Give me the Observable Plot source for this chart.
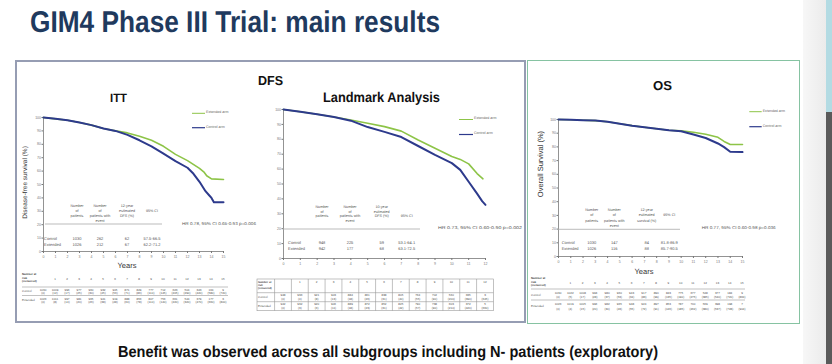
<!DOCTYPE html>
<html><head><meta charset="utf-8">
<script src="https://cdn.jsdelivr.net/npm/d3@7"></script>
<script src="https://cdn.jsdelivr.net/npm/@observablehq/plot@0.6"></script>
<style>
body{margin:0;background:#fff;}
#page{position:relative;width:832px;height:364px;overflow:hidden;background:#fff;font-family:"Liberation Sans",Arial,sans-serif;}
.box{position:absolute;box-sizing:border-box;}
.chart{position:absolute;}
#ov{position:absolute;left:0;top:0;pointer-events:none;text-rendering:geometricPrecision;}
</style></head><body>
<div id="page">
  <div class="box" style="left:15px;top:60px;width:511px;height:263px;border:2px solid #969db3"></div>
  <div class="box" style="left:527px;top:60px;width:273px;height:264px;border:1.5px solid #86c3a2"></div>
  <div class="box" style="left:803px;top:0;width:23px;height:364px;background:linear-gradient(to right,#f7f7f7,#ebebeb)"></div>
  <div class="box" style="left:826px;top:0;width:6px;height:112px;background:#b3dbe3"></div>
  <div class="box" style="left:826px;top:112px;width:6px;height:252px;background:#5a5a5a"></div>
  <div id="c1" class="chart" style="left:30px;top:110px"></div>
  <div id="c2" class="chart" style="left:268px;top:102px"></div>
  <div id="c3" class="chart" style="left:543px;top:112px"></div>
  <svg id="ov" width="832" height="364"></svg>
</div>
<script>
// ---------- DATA ----------
const arms = ["Control", "Extended"];
const legendLabels = ["Extended arm", "Control arm"];

// ITT DFS curves
const ittExtYears = [0,1,2,3,4,5,6,7,8,9,10,11,12,13,13.4,13.6,14,15];
const ittExtDFS   = [100,99,98,96.3,94.3,91.8,90,88.5,86,83,78.5,72.5,67.8,62,59,56.5,54.2,53.7];
const ittCtlYears = [0,1,2,3,4,5,6,7,8,9,10,11,12,12.5,13,13.5,13.8,14,14.2,15];
const ittCtlDFS   = [100,99,98,96.3,94.3,91.8,90,87,83,78.5,73,67.5,62.5,58,52,45,42,40,36.7,36.7];

// Landmark DFS curves
const lmExtYears = [0,1,2,3,4,5,6,7,8,9,10,10.5,11,11.5,11.85];
const lmExtDFS   = [100,98.5,96.8,95,93,90.8,88.5,85.5,79.5,74,68.5,66.5,63.5,57,53.5];
const lmCtlYears = [0,1,2,3,4,5,6,7,8,9,10,10.5,11,11.5,11.8,12];
const lmCtlDFS   = [100,98.5,96.8,95,92.5,88.2,85,81.5,75.5,69.5,64,59.5,51.5,43.5,38.5,36];

// OS curves
const osExtYears = [0,1,2,3,4,5,6,7,8,9,10,11,12,13,13.5,14,15];
const osExtOS    = [100,99.8,99.5,99.2,98.3,96.9,95.5,94.4,93.3,92.2,91.7,90.7,89.2,87,84,81.7,81.7];
const osCtlYears = [0,1,2,3,4,5,6,7,8,9,10,11,12,13,13.5,14,15];
const osCtlOS    = [100,99.8,99.5,99.2,98.3,96.9,95.5,94.4,93.3,92.2,91.4,89,86.5,82.5,79.8,76.5,76.2];

// Summary tables
const ittPatients = [1030, 1026], ittEvents = [262, 212], ittRate = [62, 67], ittCI = ["57.5-66.5", "62.2-71.2"];
const lmPatients  = [948, 942],   lmEvents  = [225, 177], lmRate  = [59, 68], lmCI  = ["53.1-64.1", "63.1-72.5"];
const osPatients  = [1030, 1026], osEvents  = [147, 116], osRate  = [84, 88], osCI  = ["81.8-86.9", "85.7-90.5"];
const ittHR = "HR 0.78, 95% CI 0.65-0.93 p=0.006";
const lmHR  = "HR 0.73, 95% CI 0.60-0.90 p=0.002";
const osHR  = "HR 0.77, 95% CI 0.60-0.98 p=0.036";

// Number at risk (censored)
const ittRiskCtl = [1030,1009,996,977,960,932,905,871,829,777,712,623,504,343,164,9];
const ittCensCtl = [0,12,17,25,30,45,56,71,86,110,145,205,290,420,580,720];
const ittRiskExt = [1026,1011,997,981,965,941,919,888,856,807,756,661,544,379,177,3];
const ittCensExt = [0,8,14,20,26,38,48,64,78,110,140,220,320,470,660,800];
const lmRiskCtl = [948,936,921,903,884,861,838,805,764,702,560,335,3];
const lmCensCtl = [0,4,8,13,18,26,31,40,55,90,200,390,645];
const lmRiskExt = [942,932,920,906,889,872,852,825,790,738,603,372,5];
const lmCensExt = [0,3,6,11,18,23,31,42,57,90,210,420,660];
const osRiskCtl = [1030,1022,1008,993,980,960,943,917,890,843,775,677,548,377,184,9];
const osCensCtl = [0,5,17,28,37,53,64,83,99,135,190,275,385,540,720,864];
const osRiskExt = [1026,1019,1005,996,982,965,948,924,897,853,787,700,569,398,198,7];
const osCensExt = [0,4,15,20,30,43,55,72,91,126,185,262,380,537,728,904];

const yTicks = [0,10,20,30,40,50,60,70,80,90,100];
const green = "#8dc447", blue = "#2d3a8c";

// ---------- CHARTS ----------
const zip = (xs, ys) => xs.map((t, i) => ({t, s: ys[i]}));
function km(el, maxYear, ext, ctl, dims) {
  const chart = Plot.plot({
    width: dims.w, height: dims.h,
    marginLeft: dims.ml, marginRight: dims.mr, marginTop: 7, marginBottom: 9,
    x: {domain: [0, maxYear]}, y: {domain: [0, 100]},
    style: {background: "transparent", overflow: "visible", fontFamily: "Liberation Sans, Arial, sans-serif"},
    marks: [
      Plot.axisY(yTicks, {fontSize: 3.5, tickSize: 1.5, tickPadding: 1, label: null, color: "#777"}),
      Plot.axisX(d3.range(0, maxYear + 1), {fontSize: 3.5, tickSize: 2, tickPadding: 1.5, label: null, color: "#777"}),
      Plot.ruleX([0], {stroke: "#777", strokeWidth: 0.8}),
      Plot.ruleY([0], {stroke: "#777", strokeWidth: 0.8}),
      Plot.line(ext, {x: "t", y: "s", stroke: green, strokeWidth: 1.6}),
      Plot.line(ctl, {x: "t", y: "s", stroke: blue, strokeWidth: 2})
    ]
  });
  document.getElementById(el).append(chart);
  return chart;
}
const ch1 = km("c1", 15, zip(ittExtYears, ittExtDFS), zip(ittCtlYears, ittCtlDFS), {w: 200, h: 150, ml: 13, mr: 7});
const ch2 = km("c2", 12, zip(lmExtYears, lmExtDFS), zip(lmCtlYears, lmCtlDFS), {w: 225, h: 165, ml: 15, mr: 8});
const ch3 = km("c3", 15, zip(osExtYears, osExtOS), zip(osCtlYears, osCtlOS), {w: 207, h: 153, ml: 15, mr: 8});
const px = (ch, left) => { const s = ch.scale("x"); return t => left + s.apply(t); };
const x1 = px(ch1, 30), x2 = px(ch2, 268), x3 = px(ch3, 543);

// ---------- OVERLAY TEXT ----------
const ov = d3.select("#ov").attr("font-family", "Liberation Sans, Arial, sans-serif");
function T(x, y, s, fs, o = {}) {
  const e = ov.append("text").attr("x", x).attr("y", y).attr("font-size", fs)
    .attr("fill", o.c || "#555").attr("text-anchor", o.a || "start").text(s);
  if (o.w) e.attr("font-weight", o.w);
  if (o.len) e.attr("textLength", o.len).attr("lengthAdjust", "spacingAndGlyphs");
  if (o.f) e.attr("font-family", o.f);
  if (o.rot) e.attr("transform", `rotate(-90 ${x} ${y})`);
  return e;
}
function L(x1_, y1_, x2_, y2_, c, w) {
  ov.append("line").attr("x1", x1_).attr("y1", y1_).attr("x2", x2_).attr("y2", y2_).attr("stroke", c).attr("stroke-width", w);
}

// Title & caption
T(30, 32, "GIM4 Phase III Trial: main results", 30, {c: "#1f3a5e", w: "bold", len: 410, f: "Liberation Sans Narrow, Liberation Sans, Arial"});
T(118, 356.5, "Benefit was observed across all subgroups including N- patients (exploratory)", 16, {c: "#111", w: "bold", len: 540});

// Panel titles
T(270.5, 85, "DFS", 13, {c: "#111", w: "bold", a: "middle", len: 25});
T(118.5, 102, "ITT", 12, {c: "#111", w: "bold", a: "middle", len: 17});
T(381.5, 102, "Landmark Analysis", 14, {c: "#111", w: "bold", a: "middle", len: 117});
T(662.5, 89.5, "OS", 13, {c: "#111", w: "bold", a: "middle", len: 19});

// Axis titles
T(27, 182.5, "Disease-free survival (%)", 6.5, {c: "#333", a: "middle", rot: true});
T(542.5, 164, "Overall Survival (%)", 7.5, {c: "#333", a: "middle", rot: true});
T(127, 268, "Years", 7.5, {c: "#333", a: "middle"});
T(644, 274, "Years", 7.5, {c: "#333", a: "middle"});

// Legends
function legend(x0, x1_, yG, yB) {
  L(x0, yG, x1_, yG, green, 1);
  L(x0, yB, x1_, yB, blue, 1.2);
  T(x1_ + 1, yG - 0.2, legendLabels[0], 3.6, {c: "#666"});
  T(x1_ + 1, yB - 0.2, legendLabels[1], 3.6, {c: "#666"});
}
legend(192, 205, 113.3, 127.7);
legend(459, 473, 119.5, 134.5);
legend(749.3, 761.7, 111.7, 126.7);

// Summary tables inside plots
function summary(cfg, patients, events, rate, ci, hr) {
  const fs = 3.7;
  const heads = [["Number", "of", "patients"], ["Number", "of", "patients with", "event"], cfg.rateHead];
  heads.forEach((lines, j) => lines.forEach((s, k) => T(cfg.cols[j], cfg.hy + k * cfg.hs + 1.3, s, fs, {a: "middle", c: "#555"})));
  T(cfg.cols[3], cfg.hy + cfg.ciLine * cfg.hs + 1.3, "95% CI", fs, {a: "middle", c: "#555"});
  L(cfg.sep[0], cfg.sepY, cfg.sep[1], cfg.sepY, "#aaa", 0.8);
  arms.forEach((a, i) => {
    const y = cfg.rows[i] + 1.4;
    T(cfg.lx, y, a, 4, {c: "#555"});
    T(cfg.cols[0], y, patients[i], 4, {a: "middle", c: "#555"});
    T(cfg.cols[1], y, events[i], 4, {a: "middle", c: "#555"});
    T(cfg.cols[2], y, rate[i], 4, {a: "middle", c: "#555"});
    T(cfg.cols[3], y, ci[i], 4, {a: "middle", c: "#555"});
  });
  T(cfg.hrx, cfg.hry + 1.4, hr, 4.2, {c: "#555", len: cfg.hrl});
}
summary({cols: [77, 100, 127, 152], hy: 205.7, hs: 5, ciLine: 1, rateHead: ["12-year", "estimated", "DFS (%)"],
  sep: [45, 162], sepY: 224, lx: 44, rows: [238.7, 244.7], hrx: 182, hry: 223.3, hrl: 74},
  ittPatients, ittEvents, ittRate, ittCI, ittHR);
summary({cols: [322, 350, 381.7, 406.7], hy: 206.7, hs: 4.5, ciLine: 2, rateHead: ["10-year", "estimated", "DFS (%)"],
  sep: [283, 420], sepY: 229, lx: 288, rows: [242.7, 248.3], hrx: 438, hry: 227.7, hrl: 84},
  lmPatients, lmEvents, lmRate, lmCI, lmHR);
summary({cols: [591.7, 614.3, 646.7, 669.3], hy: 209.3, hs: 5.6, ciLine: 1, rateHead: ["12-year", "estimated", "survival (%)"],
  sep: [558, 680], sepY: 229.3, lx: 561.7, rows: [242.7, 249], hrx: 701.7, hry: 227.3, hrl: 74},
  osPatients, osEvents, osRate, osCI, osHR);

// Number at risk tables
function riskTable(cfg, xf, n, rc, cc, re, ce) {
  const fs = 3;
  ["Number at", "risk", "(censored)"].forEach((s, k) => T(cfg.lx, cfg.ly + k * 3.6, s, 2.9, {c: "#444", w: "bold"}));
  for (let t = 1; t <= n; t++) T(xf(t), cfg.hy + 1, t, fs, {a: "middle", c: "#555"});
  cfg.lines.forEach(y => L(cfg.l0, y, cfg.l1, y, "#999", 0.6));
  [[rc, cc], [re, ce]].forEach(([r, c], i) => {
    T(cfg.lx, cfg.rl[i] + 1, arms[i], fs, {c: "#555"});
    r.forEach((v, t) => {
      T(xf(t), cfg.rv[i][0] + 1, v, fs, {a: "middle", c: "#555"});
      T(xf(t), cfg.rv[i][1] + 1, `(${c[t]})`, fs, {a: "middle", c: "#555"});
    });
  });
}
riskTable({lx: 22, ly: 275, hy: 279, lines: [287, 295.5], l0: 22, l1: 228, rl: [291, 300], rv: [[289.5, 293], [298.5, 302]]},
  x1, 15, ittRiskCtl, ittCensCtl, ittRiskExt, ittCensExt);
riskTable({lx: 531, ly: 279, hy: 283, lines: [289, 300], l0: 531, l1: 745, rl: [294.5, 306], rv: [[292.7, 296.7], [304, 308.5]]},
  x3, 15, osRiskCtl, osCensCtl, osRiskExt, osCensExt);

// Landmark bordered grid
(function () {
  const top = 279, rowsY = [292.7, 301.7], bot = 310.7, left = 257, right = x2(12.5);
  ov.append("rect").attr("x", left).attr("y", top).attr("width", right - left).attr("height", bot - top)
    .attr("fill", "none").attr("stroke", "#999").attr("stroke-width", 0.6);
  for (let t = 0; t <= 12; t++) L(x2(t - 0.5), top, x2(t - 0.5), bot, "#999", 0.6);
  rowsY.forEach(y => L(left, y, right, y, "#999", 0.6));
  ["Number at", "risk", "(censored)"].forEach((s, k) => T(258, 282.5 + k * 3.4, s, 2.7, {c: "#444", w: "bold"}));
  for (let t = 1; t <= 12; t++) T(x2(t), 283, t, 3, {a: "middle", c: "#555"});
  [[lmRiskCtl, lmCensCtl, 297, [295, 299]], [lmRiskExt, lmCensExt, 306, [304, 308]]].forEach(([r, c, ly, vy], i) => {
    T(258, ly + 1, arms[i], 3, {c: "#555"});
    r.forEach((v, t) => {
      T(x2(t), vy[0] + 1, v, 3, {a: "middle", c: "#555"});
      T(x2(t), vy[1] + 1, `(${c[t]})`, 3, {a: "middle", c: "#555"});
    });
  });
})();
</script>
</body></html>
